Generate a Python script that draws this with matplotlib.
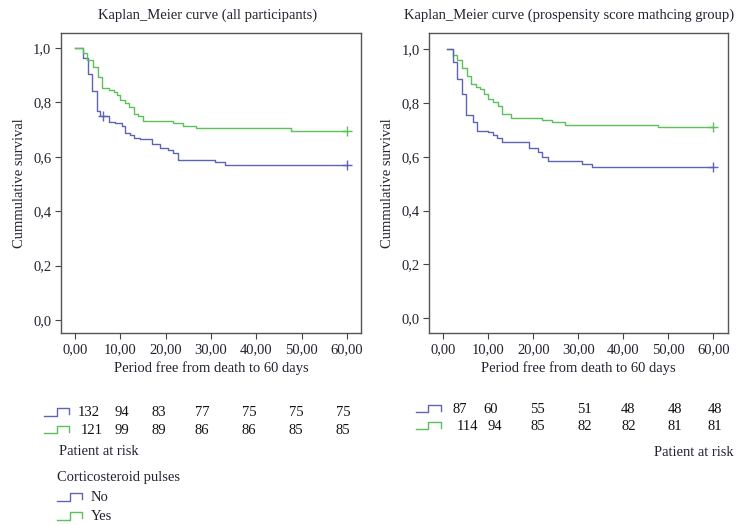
import matplotlib
matplotlib.use("Agg")
import matplotlib.pyplot as plt
from matplotlib.lines import Line2D

plt.rcParams["font.family"] = ["Liberation Serif", "DejaVu Serif"]

BLUE = "#5f63b4"
GREEN = "#5cc15a"
TXT = "#23232f"

# %% data
# all participants
all_no_t = [0, 1.8, 2.9, 3.8, 4.9, 5.5, 7.4, 8.8, 10.3, 11.0, 12.1, 12.9, 14.3, 16.9, 18.75, 20.6, 21.7, 22.8, 30.9, 33.0, 60]
all_no_s = [1.0, 0.962, 0.903, 0.84, 0.768, 0.748, 0.727, 0.723, 0.714, 0.686, 0.680, 0.668, 0.664, 0.646, 0.634, 0.625, 0.613, 0.588, 0.579, 0.571, 0.571]
all_no_cens_t = [6.25, 60]
all_no_cens_s = [0.748, 0.571]
all_yes_t = [0, 1.8, 2.6, 4.0, 5.1, 6.0, 7.6, 8.5, 9.2, 9.9, 11.0, 11.8, 12.9, 14.0, 15.1, 21.7, 23.9, 26.8, 47.6, 60]
all_yes_s = [1.0, 0.98, 0.956, 0.929, 0.894, 0.854, 0.845, 0.837, 0.827, 0.809, 0.797, 0.784, 0.756, 0.748, 0.731, 0.725, 0.714, 0.706, 0.696, 0.696]
all_yes_cens_t = [60]
all_yes_cens_s = [0.696]

# propensity score matching group
psm_no_t = [0.75, 2.2, 3.1, 4.1, 5.0, 6.5, 7.4, 10.0, 11.1, 11.9, 13.1, 19.0, 21.1, 22.0, 23.3, 30.8, 33.0, 60]
psm_no_s = [1.0, 0.953, 0.891, 0.832, 0.756, 0.728, 0.697, 0.691, 0.681, 0.669, 0.654, 0.631, 0.618, 0.600, 0.584, 0.575, 0.562, 0.562]
psm_no_cens_t = [60]
psm_no_cens_s = [0.562]
psm_yes_t = [0.75, 2.2, 3.0, 4.1, 5.2, 6.1, 7.3, 8.1, 9.1, 10.0, 11.1, 12.1, 13.1, 15.0, 21.9, 24.1, 27.0, 47.8, 60]
psm_yes_s = [1.0, 0.979, 0.960, 0.929, 0.902, 0.870, 0.861, 0.852, 0.833, 0.815, 0.805, 0.787, 0.758, 0.746, 0.737, 0.729, 0.717, 0.711, 0.711]
psm_yes_cens_t = [60]
psm_yes_cens_s = [0.711]

xticks = [0, 10, 20, 30, 40, 50, 60]
xticklabels = ["0,00", "10,00", "20,00", "30,00", "40,00", "50,00", "60,00"]
yticks = [0.0, 0.2, 0.4, 0.6, 0.8, 1.0]
yticklabels = ["0,0", "0,2", "0,4", "0,6", "0,8", "1,0"]

# patients at risk
all_risk_no = ["132", "94", "83", "77", "75", "75", "75"]
all_risk_yes = ["121", "99", "89", "86", "86", "85", "85"]
psm_risk_no = ["87", "60", "55", "51", "48", "48", "48"]
psm_risk_yes = ["114", "94", "85", "82", "82", "81", "81"]

# %% figure
W, H = 736, 525
fig = plt.figure(figsize=(W / 100, H / 100), dpi=100)


def fx(px):
    return px / W


def fy(py):
    return 1 - py / H


def style_axes(ax, xlim, ylim):
    ax.set_xlim(xlim)
    ax.set_ylim(ylim)
    ax.set_xticks(xticks)
    ax.set_xticklabels(xticklabels)
    ax.set_yticks(yticks)
    ax.set_yticklabels(yticklabels)
    ax.tick_params(direction="out", length=4, width=0.8, colors="#444444", labelsize=10.5, labelcolor=TXT, pad=3)
    for sp in ax.spines.values():
        sp.set_color("#555555")
        sp.set_linewidth(1.0)
    ax.set_xlabel("Period free from death to 60 days", fontsize=10.5, color=TXT, labelpad=4)
    ax.set_ylabel("Cummulative survival", fontsize=10.5, color=TXT, labelpad=5)


ax1 = fig.add_axes([fx(61), fy(333), fx(300), 300 / H])
ax1.step(all_no_t, all_no_s, where="post", color=BLUE, lw=1.0)
ax1.step(all_yes_t, all_yes_s, where="post", color=GREEN, lw=1.0)
ax1.plot(all_no_cens_t, all_no_cens_s, "+", color=BLUE, ms=7, mew=1.0)
ax1.plot(all_yes_cens_t, all_yes_cens_s, "+", color=GREEN, ms=7, mew=1.0)
style_axes(ax1, (-3.1, 63.1), (-0.048, 1.055))

ax2 = fig.add_axes([fx(429.3), fy(333.3), fx(298.4), 300 / H])
ax2.step(psm_yes_t, psm_yes_s, where="post", color=GREEN, lw=1.0)
ax2.step(psm_no_t, psm_no_s, where="post", color=BLUE, lw=1.0)
ax2.plot(psm_no_cens_t, psm_no_cens_s, "+", color=BLUE, ms=7, mew=1.0)
ax2.plot(psm_yes_cens_t, psm_yes_cens_s, "+", color=GREEN, ms=7, mew=1.0)
style_axes(ax2, (-3.1, 63.2), (-0.056, 1.059))

fig.text(fx(208), fy(15), "Kaplan_Meier curve (all participants)", ha="center", va="center", fontsize=10.5, color=TXT)
fig.text(fx(569.5), fy(15), "Kaplan_Meier curve (prospensity score mathcing group)", ha="center", va="center",
         fontsize=10.5, color=TXT)


def step_icon(x0, ymid, color):
    # small "_|‾|" legend glyph, pixel coords
    xs = [x0, x0 + 12.5, x0 + 12.5, x0 + 25, x0 + 25]
    ys = [ymid + 3, ymid + 3, ymid - 4.5, ymid - 4.5, ymid + 1.5]
    fig.add_artist(Line2D([fx(v) for v in xs], [fy(v) for v in ys], color=color, lw=1.0,
                          transform=fig.transFigure))


def risk_row(xs, ymid, values):
    for x, v in zip(xs, values):
        fig.text(fx(x), fy(ymid), v, ha="center", va="center", fontsize=10.5, color="#111111")


# left risk table
left_cols_no = [89, 122, 159, 202, 249, 296, 343]
left_cols_yes = [92, 122, 159, 202, 249, 296, 343]
step_icon(44.3, 412.5, BLUE)
step_icon(44.3, 430, GREEN)
risk_row(left_cols_no, 412.5, all_risk_no)
risk_row(left_cols_yes, 430, all_risk_yes)
fig.text(fx(59), fy(451.5), "Patient at risk", ha="left", va="center", fontsize=10.5, color=TXT)
fig.text(fx(57), fy(478), "Corticosteroid pulses", ha="left", va="center", fontsize=10.5, color=TXT)
step_icon(57, 497.5, BLUE)
step_icon(57, 516.5, GREEN)
fig.text(fx(91), fy(497.5), "No", ha="left", va="center", fontsize=10.5, color=TXT)
fig.text(fx(91), fy(516.5), "Yes", ha="left", va="center", fontsize=10.5, color=TXT)

# right risk table
right_cols_no = [460, 490.7, 537.7, 584.3, 628.3, 675, 715]
right_cols_yes = [467.7, 495, 537.7, 584.3, 628.3, 675, 715]
step_icon(415.7, 409.3, BLUE)
step_icon(415.7, 426, GREEN)
risk_row(right_cols_no, 409.3, psm_risk_no)
risk_row(right_cols_yes, 426, psm_risk_yes)
fig.text(fx(733.3), fy(452), "Patient at risk", ha="right", va="center", fontsize=10.5, color=TXT)

plt.savefig("out.png", dpi=100)
